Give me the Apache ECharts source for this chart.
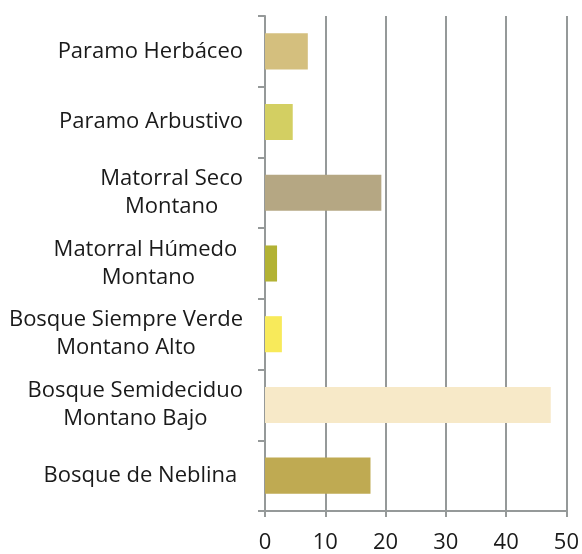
<!DOCTYPE html>
<html>
<head>
<meta charset="utf-8">
<script src="https://cdn.jsdelivr.net/npm/echarts@6/dist/echarts.min.js"></script>
<style>
  html, body { margin: 0; padding: 0; background: #fff; }
  #chart { width: 582px; height: 554px; }
</style>
</head>
<body>
<div id="chart"></div>
<script>
// bottom to top, as the category axis draws them
const categories = [
  'Bosque de Neblina ',
  'Bosque Semideciduo\nMontano Bajo',
  'Bosque Siempre Verde\nMontano Alto',
  'Matorral Húmedo \nMontano',
  'Matorral Seco\nMontano',
  'Paramo Arbustivo',
  'Paramo Herbáceo'
]
const values = [17.5, 47.4, 2.8, 2.0, 19.3, 4.6, 7.1]
const barColors = ['#bfaa52', '#f7e9c8', '#f8ea5a', '#b2b234', '#b5a783', '#d3cf62', '#d4bf7e']
const xTicks = [0, 10, 20, 30, 40, 50]

const axisGray = '#959999'
const font = '"Open Sans", sans-serif'

const chart = echarts.init(document.getElementById('chart'))
chart.setOption({
  animation: false,
  grid: { left: 265, right: 14, top: 16, bottom: 43, containLabel: false },
  xAxis: {
    type: 'value',
    min: xTicks[0],
    max: xTicks[xTicks.length - 1],
    interval: 10,
    axisLine: { show: true, lineStyle: { color: axisGray, width: 2 } },
    axisTick: { show: true, length: 6, lineStyle: { color: axisGray, width: 2 } },
    axisLabel: { color: '#1a1a1a', fontSize: 22, fontFamily: font, margin: 21 },
    splitLine: { show: true, lineStyle: { color: axisGray, width: 2 } }
  },
  yAxis: {
    type: 'category',
    data: categories,
    axisLine: { show: true, lineStyle: { color: axisGray, width: 2 } },
    axisTick: { show: true, length: 7, lineStyle: { color: axisGray, width: 2 } },
    axisLabel: {
      color: '#1a1a1a',
      fontSize: 22,
      fontFamily: font,
      margin: 22,
      lineHeight: 28,
      formatter: v => v.split('\n').map(s => '{c|' + s + '}').join('\n'),
      rich: { c: { align: 'center', fontSize: 22, fontFamily: font, lineHeight: 28, color: '#1a1a1a' } }
    }
  },
  series: [{
    type: 'bar',
    barCategoryGap: '49%',
    data: values.map((v, i) => ({ value: v, itemStyle: { color: barColors[i] } }))
  }]
})
</script>
</body>
</html>
